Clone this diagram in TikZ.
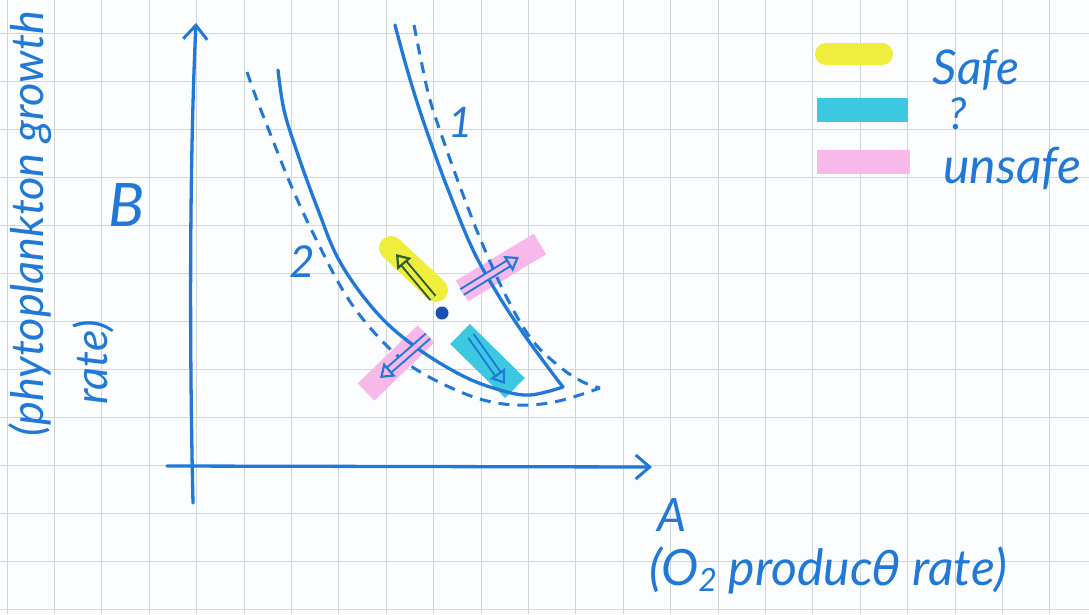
\documentclass[tikz,border=0pt]{standalone}
\usepackage{fontspec}
\setmainfont{Lato}
\newfontfamily\greekfont{DejaVu Sans}
\usetikzlibrary{arrows.meta}
\definecolor{pen}{RGB}{32,120,215}
\definecolor{dotblue}{RGB}{25,80,180}
\definecolor{gridv}{RGB}{205,212,218}
\definecolor{gridh}{RGB}{190,220,242}
\definecolor{paper}{RGB}{252,253,254}
\definecolor{hlyellow}{RGB}{240,238,60}
\definecolor{hlcyan}{RGB}{60,200,225}
\definecolor{hlpink}{RGB}{246,185,234}
\definecolor{arrgreen}{RGB}{40,95,45}
\begin{document}
\begin{tikzpicture}[x=1pt,y=-1pt,
  pen/.style={draw=pen, line width=3.3pt, line cap=round, line join=round},
  dashpen/.style={pen, line width=3pt, line cap=butt, dash pattern=on 11pt off 8pt},
  hl/.style={line width=24pt, line cap=round},
  darrow/.style={line width=2pt, double distance=4.5pt, -{Triangle[open, length=13pt, width=18pt, line width=2.2pt]}},
  axisarrow/.style={pen, -{Straight Barb[length=14pt,width=24pt,line width=3pt]}},
  hand/.style={text=pen, font=\itshape, inner sep=0pt}
]
\useasboundingbox (0,0) rectangle (1089,614);
\fill[paper] (0,0) rectangle (1089,614);
% grid
\foreach \i in {0,...,22} \draw[gridv, line width=1pt] ({7+47.4*\i},0) -- ({7+47.4*\i},614);
\foreach \j in {0,...,12} \draw[gridh, line width=1pt] (0,{33+48*\j}) -- (1089,{33+48*\j});

% highlighter strokes
\draw[hl, hlyellow] (391,248) -- (436,290);
\draw[hl, hlpink, line cap=butt] (462,291) -- (540,244);
\draw[hl, hlpink, line cap=butt] (366,392) -- (426,334);
\draw[hlcyan, line width=28pt, line cap=butt] (460,334) -- (515,388);

% legend bars
\draw[hlyellow, line width=22pt, line cap=round] (826,54) -- (882,54);
\draw[hlcyan, line width=24pt] (817,110) -- (908,110);
\draw[hlpink, line width=24pt] (817,162) -- (910,162);

% axes
\coordinate (yb) at (193,503);
\coordinate (yt) at (196,23);
\coordinate (xl) at (167,466);
\coordinate (xr) at (652,467);
\draw[axisarrow] (yb) .. controls (189,330) and (190,150) .. (yt);
\draw[axisarrow] (xl) -- (xr);

% curves
\draw[pen] plot[smooth, tension=0.6] coordinates {(278,70) (284,110) (297,152) (317,207) (340,262) (377,313) (417,348) (463,376) (500,390) (530,395) (563,387)};
\draw[pen] plot[smooth, tension=0.6] coordinates {(395,25) (405,62) (417,102) (432,146) (449,192) (473,250) (497,293) (523,333) (550,370) (563,387)};
\draw[dashpen] plot[smooth, tension=0.6] coordinates {(414,25) (421,60) (430,100) (445,145) (462,192) (482,243) (507,298) (532,340) (560,367) (583,382) (600,388)};
\draw[dashpen] plot[smooth, tension=0.6] coordinates {(247,72) (257,100) (270,133) (290,183) (313,233) (347,297) (383,342) (417,370) (463,393) (497,403) (530,405) (563,400) (600,388)};

% state point
\fill[dotblue] (442,313) circle (6.5pt) coordinate (pt);

% direction arrows
\coordinate (ya) at (433,298); \coordinate (yh) at (396,254);
\coordinate (ua) at (462,292); \coordinate (uh) at (519,257);
\coordinate (la) at (428,336); \coordinate (lh) at (380,378);
\coordinate (ca) at (471,336); \coordinate (ch) at (505,384);
\draw[darrow, draw=arrgreen, double=hlyellow] (ya) -- (yh);
\draw[darrow, draw=pen, double=hlpink] (ua) -- (uh);
\draw[darrow, draw=pen, double=hlpink] (la) -- (lh);
\draw[darrow, draw=pen, double=hlcyan] (ca) -- (ch);

% labels
\node[hand, font=\itshape\fontsize{42}{42}\selectfont] (one) at (461,122) {1};
\node[hand, font=\itshape\fontsize{44}{44}\selectfont] (two) at (302,262) {2};
\node[hand, font=\itshape\fontsize{60}{60}\selectfont] (B) at (127,205) {B};
\node[hand, font=\itshape\fontsize{45}{45}\selectfont, rotate=90] (ylab1) at (30,224) {(phytoplankton growth};
\node[hand, font=\itshape\fontsize{45}{45}\selectfont, rotate=90] (ylab2) at (93,362) {rate)};
\node[hand, font=\itshape\fontsize{46}{46}\selectfont] (A) at (672,515) {A};
\node[hand, font=\itshape\fontsize{50}{50}\selectfont] (xlab) at (828,570) {(O\raisebox{-0.25ex}{\fontsize{32}{32}\selectfont 2} produc{\greekfont\fontsize{46}{46}\selectfont θ} rate)};
\node[hand, font=\itshape\fontsize{48}{48}\selectfont] (safe) at (976,70) {Safe};
\node[hand, font=\itshape\fontsize{44}{44}\selectfont] (q) at (958,114) {?};
\node[hand, font=\itshape\fontsize{50}{50}\selectfont] (unsafe) at (1012,168) {unsafe};
\end{tikzpicture}
\end{document}
